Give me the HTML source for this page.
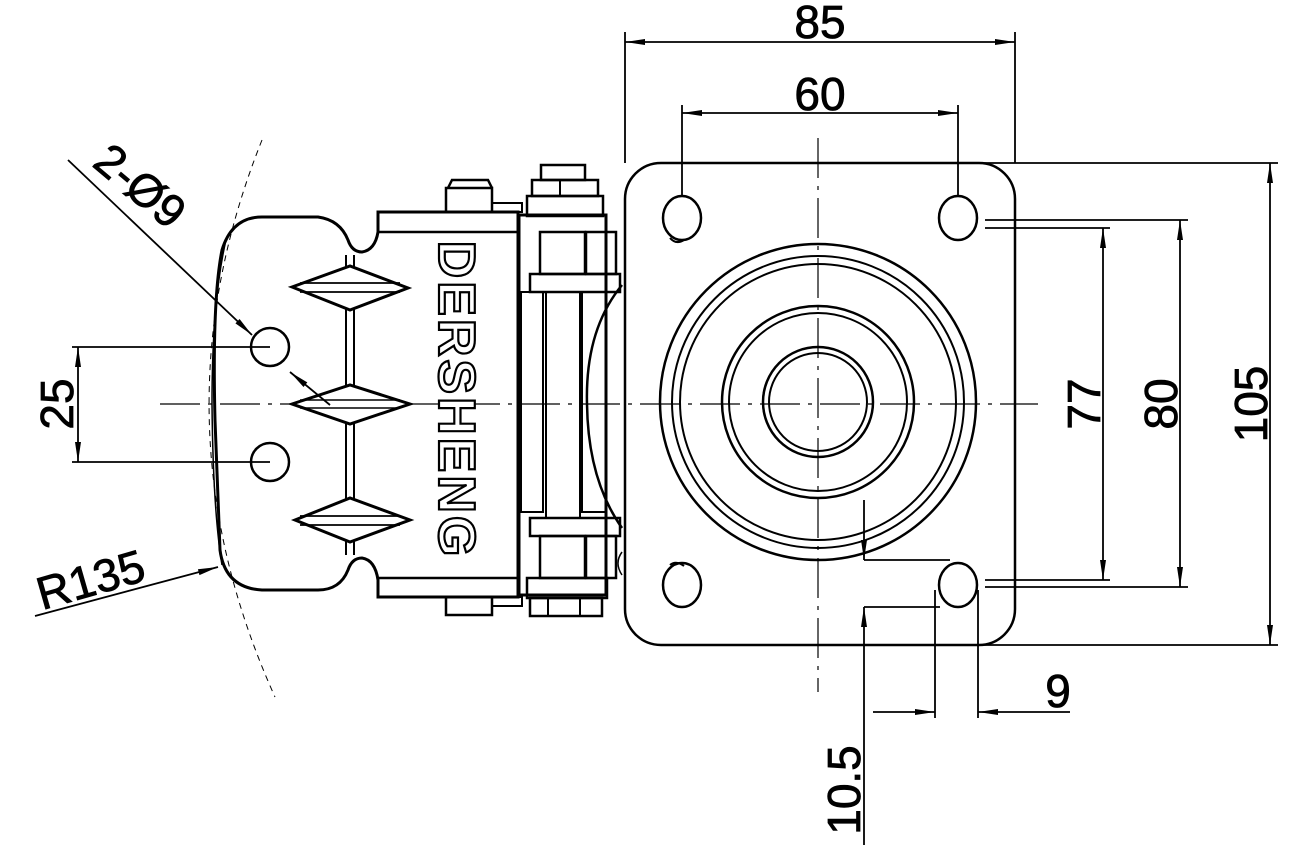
<!DOCTYPE html>
<html><head><meta charset="utf-8"><style>
html,body{margin:0;padding:0;background:#fff;}
svg{display:block;}
text{font-family:"Liberation Sans",sans-serif;fill:#000;stroke:#000;stroke-width:0.8;}
</style></head><body>
<svg width="1304" height="867" viewBox="0 0 1304 867" xmlns="http://www.w3.org/2000/svg">
<defs>
<marker id="a" viewBox="0 0 20 8" refX="20" refY="4" markerWidth="22" markerHeight="8" markerUnits="userSpaceOnUse" orient="auto-start-reverse"><path d="M0,1 L20,4 L0,7 Z" fill="#000"/></marker>
</defs>
<g fill="none" stroke="#000" stroke-width="2.5">
<path d="M262 140 Q150 420 275 697" stroke-width="1" stroke-dasharray="6,5"/>
<line x1="160" y1="404" x2="1038" y2="404" stroke-width="1.2" stroke-dasharray="40,8,4,8"/>
<line x1="818" y1="138" x2="818" y2="692" stroke-width="1.2" stroke-dasharray="40,8,4,8"/>

<path d="M262 217 L318 217 Q340 220 348 240 Q352 252 362 252 Q375 250 378 232 L378 212 L518 212 L518 597 L378 597 L378 580 Q375 560 362 558 Q352 558 348 570 Q340 590 318 590 L262 590 Q225 588 220 550 L215 420 Q212 300 222 250 Q232 217 262 217 Z" stroke-width="3"/>
<path d="M226 240 Q212 300 212 404 Q213 510 222 565" stroke-width="1.5"/>
<line x1="378" y1="232" x2="518" y2="232"/>
<line x1="378" y1="578" x2="518" y2="578"/>
<line x1="346" y1="255" x2="346" y2="555" stroke-width="2"/>
<line x1="354" y1="255" x2="354" y2="555" stroke-width="2"/>
<g fill="#fff" stroke-width="3">
<path d="M292 287 L350 266 L408 288 L350 310 Z"/>
<path d="M292 404 L350 385 L410 404 L350 424 Z"/>
<path d="M295 520 L350 498 L410 520 L350 542 Z"/>
</g>
<line x1="300" y1="283" x2="400" y2="283" stroke-width="1.8"/><line x1="300" y1="292" x2="400" y2="292" stroke-width="1.8"/>
<line x1="300" y1="516" x2="400" y2="516" stroke-width="1.8"/><line x1="300" y1="525" x2="400" y2="525" stroke-width="1.8"/>
<line x1="300" y1="400" x2="400" y2="400" stroke-width="1.5"/><line x1="300" y1="408" x2="400" y2="408" stroke-width="1.5"/>
<circle cx="270" cy="347" r="19"/>
<circle cx="270" cy="462" r="19"/>
<rect x="446" y="188" width="46" height="24"/>
<path d="M448 188 L452 180 L488 180 L492 188"/>
<rect x="446" y="597" width="46" height="18"/>
<rect x="492" y="203" width="30" height="9" stroke-width="2"/>
<rect x="492" y="597" width="30" height="9" stroke-width="2"/>

<rect x="519" y="215" width="87" height="380" stroke-width="3"/>
<rect x="521" y="292" width="22" height="220" stroke-width="2"/>
<rect x="546" y="292" width="34" height="226" stroke-width="2"/>
<rect x="582" y="292" width="24" height="220" stroke-width="2"/>
<rect x="527" y="196" width="76" height="20"/>
<rect x="532" y="180" width="66" height="16"/>
<rect x="541" y="165" width="44" height="15"/>
<rect x="540" y="232" width="45" height="42"/>
<rect x="530" y="274" width="90" height="18"/>
<rect x="586" y="232" width="30" height="42"/>
<rect x="530" y="518" width="90" height="18"/>
<rect x="540" y="536" width="45" height="42"/>
<rect x="586" y="536" width="30" height="42"/>
<rect x="527" y="578" width="80" height="20"/>
<rect x="530" y="598" width="72" height="18"/>
<line x1="560" y1="180" x2="560" y2="196" stroke-width="2"/><line x1="548" y1="598" x2="548" y2="616" stroke-width="2"/><line x1="580" y1="598" x2="580" y2="616" stroke-width="2"/>
<path d="M622 285 Q585 330 587 404 Q588 480 622 528"/>
<path d="M622 552 Q614 563 622 575" stroke-width="1.5"/>

<rect x="625" y="163" width="390" height="482" rx="36"/>
<ellipse cx="682" cy="218" rx="19" ry="22"/>
<ellipse cx="958" cy="218" rx="19" ry="22"/>
<ellipse cx="682" cy="585" rx="19" ry="22"/>
<ellipse cx="958" cy="585" rx="19" ry="22"/>
<path d="M670 238 Q676 245 684 240 M670 565 Q676 560 684 566" stroke-width="2"/>
<circle cx="818" cy="402" r="158"/>
<circle cx="818" cy="402" r="146" stroke-width="2"/>
<circle cx="818" cy="402" r="138" stroke-width="2"/>
<circle cx="818" cy="402" r="96"/>
<circle cx="818" cy="402" r="89" stroke-width="2"/>
<circle cx="818" cy="402" r="55"/>
<circle cx="818" cy="402" r="49" stroke-width="2"/>
</g>

<g stroke="#000" stroke-width="1.8" fill="none">
<line x1="625" y1="32" x2="625" y2="163"/><line x1="1015" y1="32" x2="1015" y2="163"/>
<line x1="625" y1="42" x2="1015" y2="42" marker-start="url(#a)" marker-end="url(#a)"/>
<line x1="682" y1="105" x2="682" y2="196"/><line x1="958" y1="105" x2="958" y2="196"/>
<line x1="682" y1="113" x2="958" y2="113" marker-start="url(#a)" marker-end="url(#a)"/>
<line x1="975" y1="163" x2="1278" y2="163"/><line x1="975" y1="645" x2="1278" y2="645"/>
<line x1="985" y1="220" x2="1188" y2="220"/><line x1="985" y1="587" x2="1188" y2="587"/>
<line x1="985" y1="228" x2="1110" y2="228"/><line x1="985" y1="580" x2="1110" y2="580"/>
<line x1="1103" y1="228" x2="1103" y2="580" marker-start="url(#a)" marker-end="url(#a)"/>
<line x1="1180" y1="220" x2="1180" y2="587" marker-start="url(#a)" marker-end="url(#a)"/>
<line x1="1270" y1="163" x2="1270" y2="645" marker-start="url(#a)" marker-end="url(#a)"/>
<line x1="935" y1="590" x2="935" y2="718"/><line x1="978" y1="590" x2="978" y2="718"/>
<line x1="873" y1="712" x2="935" y2="712" marker-end="url(#a)"/>
<line x1="1070" y1="712" x2="978" y2="712" marker-end="url(#a)"/>
<line x1="864" y1="560" x2="950" y2="560"/><line x1="864" y1="607" x2="940" y2="607"/>
<line x1="864" y1="500" x2="864" y2="560" marker-end="url(#a)"/>
<line x1="864" y1="845" x2="864" y2="607" marker-end="url(#a)"/>
<line x1="72" y1="347" x2="270" y2="347"/><line x1="72" y1="462" x2="270" y2="462"/>
<line x1="78" y1="347" x2="78" y2="462" marker-start="url(#a)" marker-end="url(#a)"/>
<line x1="68" y1="160" x2="252" y2="335" marker-end="url(#a)"/>
<line x1="330" y1="405" x2="290" y2="372" marker-end="url(#a)"/>
<line x1="35" y1="616" x2="218" y2="567" marker-end="url(#a)"/>
</g>
<g font-size="46">
<text x="820" y="38" text-anchor="middle">85</text>
<text x="820" y="110" text-anchor="middle">60</text>
<text transform="translate(1100,404) rotate(-90)" text-anchor="middle">77</text>
<text transform="translate(1177,404) rotate(-90)" text-anchor="middle">80</text>
<text transform="translate(1267,404) rotate(-90)" text-anchor="middle">105</text>
<text x="1058" y="707" text-anchor="middle">9</text>
<text transform="translate(860,790) rotate(-90)" text-anchor="middle">10.5</text>
<text transform="translate(73,404) rotate(-90)" text-anchor="middle">25</text>
<text transform="translate(130,198) rotate(40)" text-anchor="middle">2-Ø9</text>
<text transform="translate(95,595) rotate(-16)" text-anchor="middle">R135</text>
</g>
<text transform="translate(439,400) rotate(90)" text-anchor="middle" font-size="52" font-weight="bold" letter-spacing="3" style="fill:#fff;stroke-width:2.2">DERSHENG</text>
</svg>
</body></html>
